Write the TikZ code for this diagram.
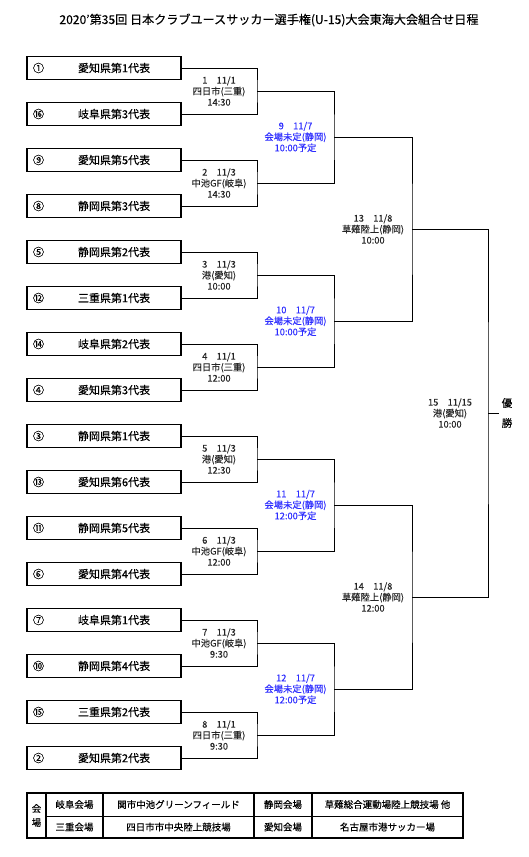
\documentclass[tikz,border=0pt]{standalone}
\usepackage{fontspec}
\setmainfont{Noto Sans CJK JP}[FakeBold=0.3]
\newfontfamily\lightjp{Noto Sans CJK JP}[FakeBold=0.1]
\usepackage{tikz}
\usetikzlibrary{positioning}
\definecolor{planblue}{RGB}{45,45,255}

\begin{document}
\begin{tikzpicture}[x=1pt,y=-1pt,
  team/.style={draw,line width=1.1pt,minimum width=154pt,minimum height=23pt,inner xsep=6pt,text width=142pt,align=left,font=\fontsize{11}{12}\selectfont},
  game/.style={align=center,inner sep=0pt,text=black!85,font=\lightjp\fontsize{9.3}{11}\selectfont},
  plan/.style={game,text=planblue},
  cell/.style={inner sep=0pt,font=\fontsize{9.5}{11}\selectfont},
  wire/.style={line width=0.8pt}]
\useasboundingbox (0,0) rectangle (529,857);
\node[font=\fontsize{12.1}{13}\selectfont] (title) at (269,20) {2020'第35回 日本クラブユースサッカー選手権(U-15)大会東海大会組合せ日程};

% teams
\node[team] (t1) at (104,68) {\makebox[45pt][l]{①}愛知県第1代表};
\node[team] (t2) at (104,114) {\makebox[45pt][l]{⑯}岐阜県第3代表};
\node[team] (t3) at (104,160) {\makebox[45pt][l]{⑨}愛知県第5代表};
\node[team] (t4) at (104,206) {\makebox[45pt][l]{⑧}静岡県第3代表};
\node[team] (t5) at (104,252) {\makebox[45pt][l]{⑤}静岡県第2代表};
\node[team] (t6) at (104,298) {\makebox[45pt][l]{⑫}三重県第1代表};
\node[team] (t7) at (104,344) {\makebox[45pt][l]{⑭}岐阜県第2代表};
\node[team] (t8) at (104,390) {\makebox[45pt][l]{④}愛知県第3代表};
\node[team] (t9) at (104,436) {\makebox[45pt][l]{③}静岡県第1代表};
\node[team] (t10) at (104,482) {\makebox[45pt][l]{⑬}愛知県第6代表};
\node[team] (t11) at (104,528) {\makebox[45pt][l]{⑪}静岡県第5代表};
\node[team] (t12) at (104,574) {\makebox[45pt][l]{⑥}愛知県第4代表};
\node[team] (t13) at (104,620) {\makebox[45pt][l]{⑦}岐阜県第1代表};
\node[team] (t14) at (104,666) {\makebox[45pt][l]{⑩}静岡県第4代表};
\node[team] (t15) at (104,712) {\makebox[45pt][l]{⑮}三重県第2代表};
\node[team] (t16) at (104,758) {\makebox[45pt][l]{②}愛知県第2代表};

% bracket joints
\coordinate (m1) at (257,91);
\coordinate (m2) at (257,183);
\coordinate (m3) at (257,275);
\coordinate (m4) at (257,367);
\coordinate (m5) at (257,459);
\coordinate (m6) at (257,551);
\coordinate (m7) at (257,643);
\coordinate (m8) at (257,735);
\coordinate (m9) at (334,137);
\coordinate (m10) at (334,321);
\coordinate (m11) at (334,505);
\coordinate (m12) at (334,689);
\coordinate (m13) at (412,229);
\coordinate (m14) at (412,597);
\coordinate (m15) at (488,413);

% match info
\node[game] (g1) at (219,91) {1\quad 11/1\\四日市(三重)\\14:30};
\node[game] (g2) at (219,183) {2\quad 11/3\\中池GF(岐阜)\\14:30};
\node[game] (g3) at (219,275) {3\quad 11/3\\港(愛知)\\10:00};
\node[game] (g4) at (219,367) {4\quad 11/1\\四日市(三重)\\12:00};
\node[game] (g5) at (219,459) {5\quad 11/3\\港(愛知)\\12:30};
\node[game] (g6) at (219,551) {6\quad 11/3\\中池GF(岐阜)\\12:00};
\node[game] (g7) at (219,643) {7\quad 11/3\\中池GF(岐阜)\\9:30};
\node[game] (g8) at (219,735) {8\quad 11/1\\四日市(三重)\\9:30};
\node[plan] (g9) at (295.5,137) {9\quad 11/7\\会場未定(静岡)\\10:00予定};
\node[plan] (g10) at (295.5,321) {10\quad 11/7\\会場未定(静岡)\\10:00予定};
\node[plan] (g11) at (295.5,505) {11\quad 11/7\\会場未定(静岡)\\12:00予定};
\node[plan] (g12) at (295.5,689) {12\quad 11/7\\会場未定(静岡)\\12:00予定};
\node[game] (g13) at (373,229) {13\quad 11/8\\草薙陸上(静岡)\\10:00};
\node[game] (g14) at (373,597) {14\quad 11/8\\草薙陸上(静岡)\\12:00};
\node[game] (g15) at (450,413) {15\quad 11/15\\港(愛知)\\10:00};
\node[align=center,font=\fontsize{10.5}{20}\selectfont,inner sep=3pt] (champ) at (507,413) {優\\勝};

% bracket lines
\draw[wire] (t1.east) -| (m1) |- (t2.east);
\draw[wire] (t3.east) -| (m2) |- (t4.east);
\draw[wire] (t5.east) -| (m3) |- (t6.east);
\draw[wire] (t7.east) -| (m4) |- (t8.east);
\draw[wire] (t9.east) -| (m5) |- (t10.east);
\draw[wire] (t11.east) -| (m6) |- (t12.east);
\draw[wire] (t13.east) -| (m7) |- (t14.east);
\draw[wire] (t15.east) -| (m8) |- (t16.east);
\draw[wire] (m1) -| (m9) |- (m2);
\draw[wire] (m3) -| (m10) |- (m4);
\draw[wire] (m5) -| (m11) |- (m6);
\draw[wire] (m7) -| (m12) |- (m8);
\draw[wire] (m9) -| (m13) |- (m10);
\draw[wire] (m11) -| (m14) |- (m12);
\draw[wire] (m13) -| (m15) |- (m14);
\draw[wire] (m15) -- (champ.west);

% venue table
\draw[line width=1.2pt] (27,793) rectangle (463,838);
\draw[line width=1.2pt] (46,793) -- (46,838) (103,793) -- (103,838) (254,793) -- (254,838) (312,793) -- (312,838);
\draw[line width=0.6pt] (46,816) -- (463,816);
\node[cell,align=center,font=\fontsize{9.5}{14}\selectfont] (v0) at (36.5,815.5) {会\\場};
\node[cell] (v1) at (74.5,804.5) {岐阜会場};
\node[cell] (v2) at (178.5,804.5) {関市中池グリーンフィールド};
\node[cell] (v3) at (283,804.5) {静岡会場};
\node[cell] (v4) at (387.5,804.5) {草薙総合運動場陸上競技場 他};
\node[cell] (v5) at (74.5,827) {三重会場};
\node[cell] (v6) at (178.5,827) {四日市市中央陸上競技場};
\node[cell] (v7) at (283,827) {愛知会場};
\node[cell] (v8) at (387.5,827) {名古屋市港サッカー場};
\end{tikzpicture}
\end{document}
